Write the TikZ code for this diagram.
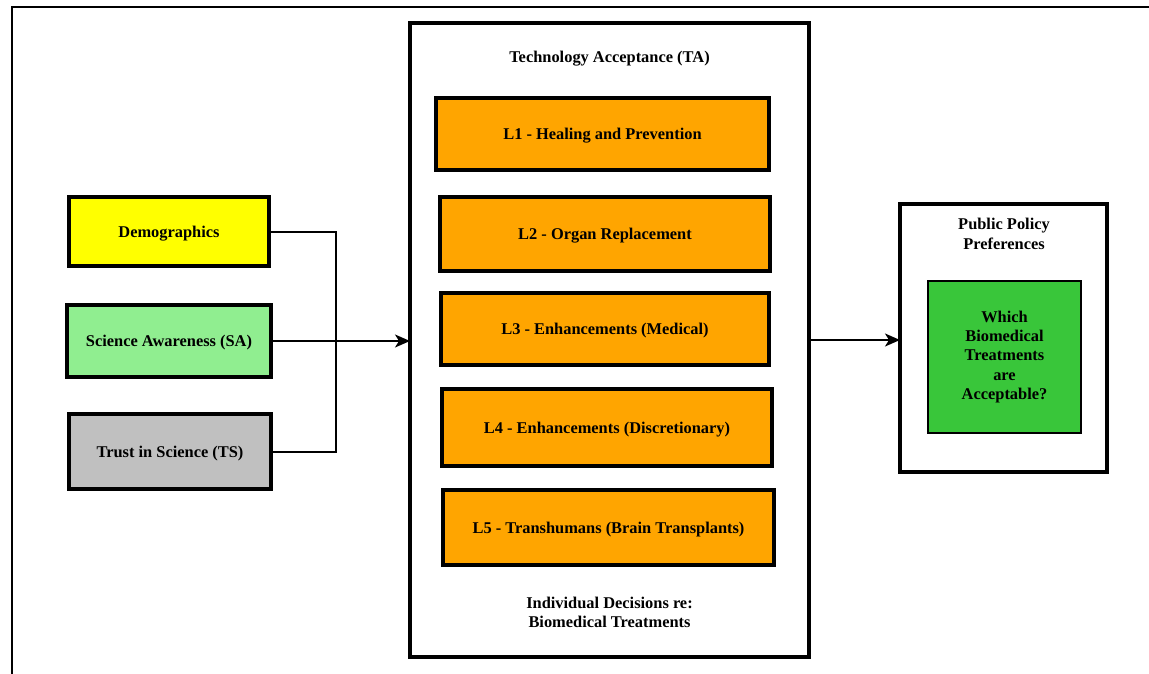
\documentclass[tikz,border=0pt]{standalone}
\usepackage{fontspec}
\setmainfont{Liberation Serif}
\usetikzlibrary{arrows.meta}
\definecolor{orangefill}{RGB}{255,165,0}
\definecolor{yellowfill}{RGB}{255,255,0}
\definecolor{lgreenfill}{RGB}{144,238,144}
\definecolor{grayfill}{RGB}{192,192,192}
\definecolor{greenfill}{RGB}{57,198,58}
\tikzset{
  x=1pt, y=-1pt,
  every node/.style={font=\fontsize{16.4}{19.4}\selectfont\bfseries, align=center, inner sep=0pt, outer sep=0pt},
  oneline/.style={text height=12pt, text depth=1pt},
  bigbox/.style={draw=black, line width=4pt, fill=white},
  lbox/.style={draw=black, line width=4pt, fill=orangefill, oneline},
  inbox/.style={draw=black, line width=4pt, oneline},
  gbox/.style={draw=black, line width=2pt, fill=greenfill},
  conn/.style={draw=black, line width=1.5pt},
  arr/.style={conn, -{Stealth[length=15pt,width=13pt,inset=4pt]}},
}
\begin{document}
\begin{tikzpicture}
\useasboundingbox (0,0) rectangle (1149,674);
% outer frame (partial)
\draw[line width=2.5pt] (12,674) -- (12,7) -- (1149,7);
% central box
\node[bigbox, minimum width=399pt, minimum height=634pt] (ta) at (609.5,340) {};
\node[oneline] (tatitle) at (609.5,57) {Technology Acceptance (TA)};
\node[lbox, minimum width=333pt, minimum height=72pt] (l1) at (602.5,134) {L1 - Healing and Prevention};
\node[lbox, minimum width=330pt, minimum height=74pt] (l2) at (605,234) {L2 - Organ Replacement};
\node[lbox, minimum width=328pt, minimum height=72pt] (l3) at (605,329) {L3 - Enhancements (Medical)};
\node[lbox, minimum width=330pt, minimum height=77pt] (l4) at (607,427.5) {L4 - Enhancements (Discretionary)};
\node[lbox, minimum width=331pt, minimum height=75pt] (l5) at (608.5,527.5) {L5 - Transhumans (Brain Transplants)};
\node (tabottom) at (609.5,612.5) {Individual Decisions re:\\Biomedical Treatments};
% left boxes
\node[inbox, fill=yellowfill, minimum width=200pt, minimum height=69pt] (dem) at (169,231.5) {Demographics};
\node[inbox, fill=lgreenfill, minimum width=204pt, minimum height=72pt] (sa) at (169,341) {Science Awareness (SA)};
\node[inbox, fill=grayfill, minimum width=202pt, minimum height=75pt] (ts) at (170,451.5) {Trust in Science (TS)};
% public policy box
\node[bigbox, minimum width=207pt, minimum height=268pt] (pp) at (1003.5,338) {};
\node (pptitle) at (1004,234) {Public Policy\\Preferences};
\node[gbox, minimum width=153pt, minimum height=152pt] (q) at (1004.5,357) {Which\\Biomedical\\Treatments\\are\\Acceptable?};
% connectors
\coordinate (join) at (336,341);
\draw[conn] (dem.east |- 0,232) -| (join);
\draw[conn] (ts.east |- 0,452) -| (join);
\draw[arr] (sa.east) -- (ta.west |- sa.east);
\draw[arr] (ta.east |- 0,340) -- (pp.west |- 0,340);
\end{tikzpicture}
\end{document}
